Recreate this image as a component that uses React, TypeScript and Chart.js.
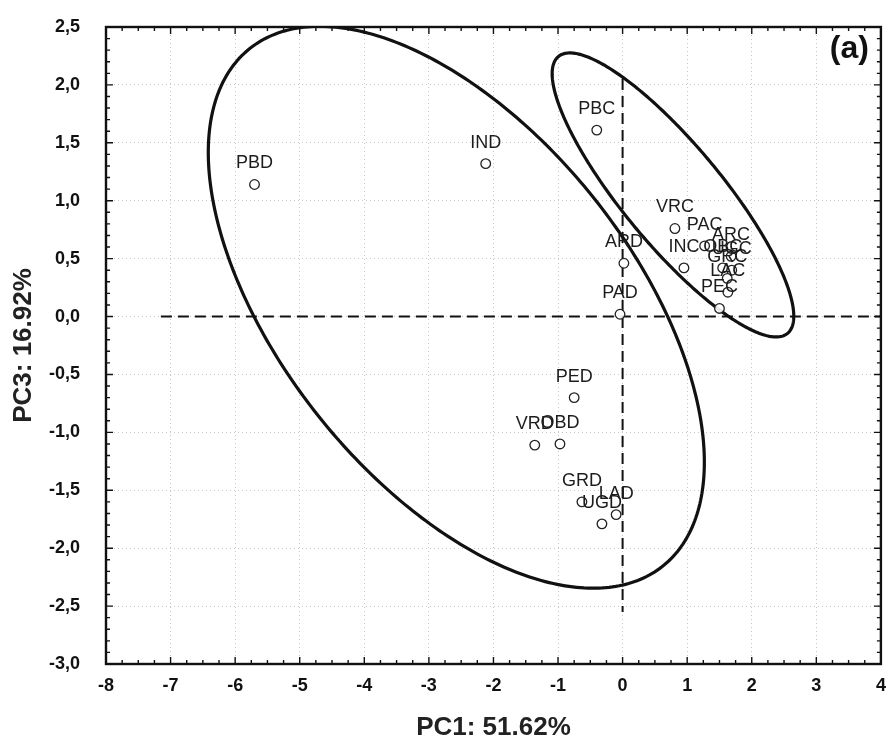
import React, { useEffect, useRef } from "react";
import { Chart, registerables } from "chart.js";

Chart.register(...registerables);

// ---- data ----
const sampleNames = [
  "PBD", "IND", "PBC", "ARD", "PAD", "VRC", "PAC", "ARC", "INC", "OBC",
  "UGC", "GRC", "LAC", "PEC", "PED", "VRD", "OBD", "GRD", "UGD", "LAD",
];
const pc1Scores = [
  -5.70, -2.12, -0.40, 0.02, -0.04, 0.81, 1.27, 1.68, 0.95, 1.55,
  1.69, 1.62, 1.63, 1.50, -0.75, -1.36, -0.97, -0.63, -0.32, -0.10,
];
const pc3Scores = [
  1.14, 1.32, 1.61, 0.46, 0.02, 0.76, 0.61, 0.52, 0.42, 0.42,
  0.40, 0.33, 0.21, 0.07, -0.70, -1.11, -1.10, -1.60, -1.79, -1.71,
];

// confidence ellipses (data units): center, and two conjugate semi-axis vectors
const ellipseCenterPC1 = [-2.575, 0.78];
const ellipseCenterPC3 = [0.08, 1.05];
const ellipseAxisA = [[3.841, -1.337], [1.772, -1.196]];
const ellipseAxisB = [[0, 2.024], [0.6, 0.27]];

// dashed zero reference lines (extent in data units)
const horizontalRefSpan = [-7.15, 4];
const verticalRefSpan = [2.05, -2.55];

const xTickRange = [-8, 4];
const yTickRange = [-3, 2.5];
const xTitle = "PC1: 51.62%";
const yTitle = "PC3: 16.92%";
const panelTag = "(a)";

const FONT = "'Liberation Sans', Arial, sans-serif";

export default function App() {
  const ref = useRef<HTMLCanvasElement>(null);

  useEffect(() => {
    const canvas = ref.current;
    if (!canvas) return;

    const points = sampleNames.map((_, i) => ({ x: pc1Scores[i], y: pc3Scores[i] }));

    const overlay = {
      id: "overlay",
      beforeDatasetsDraw(chart: any) {
        const { ctx, chartArea: a, scales } = chart;
        const x = scales.x, y = scales.y;
        ctx.save();
        ctx.beginPath();
        ctx.rect(a.left, a.top, a.right - a.left, a.bottom - a.top);
        ctx.clip();
        ctx.strokeStyle = "#111";
        ctx.lineWidth = 3.2;
        for (let e = 0; e < ellipseCenterPC1.length; e++) {
          ctx.beginPath();
          for (let k = 0; k <= 360; k++) {
            const t = (k * Math.PI) / 180;
            const dx = ellipseCenterPC1[e] + Math.cos(t) * ellipseAxisA[e][0] + Math.sin(t) * ellipseAxisB[e][0];
            const dy = ellipseCenterPC3[e] + Math.cos(t) * ellipseAxisA[e][1] + Math.sin(t) * ellipseAxisB[e][1];
            const px = x.getPixelForValue(dx);
            const py = y.getPixelForValue(dy);
            if (k === 0) ctx.moveTo(px, py);
            else ctx.lineTo(px, py);
          }
          ctx.closePath();
          ctx.stroke();
        }
        ctx.setLineDash([11, 6]);
        ctx.lineWidth = 2;
        ctx.beginPath();
        ctx.moveTo(x.getPixelForValue(horizontalRefSpan[0]), y.getPixelForValue(0));
        ctx.lineTo(x.getPixelForValue(horizontalRefSpan[1]), y.getPixelForValue(0));
        ctx.moveTo(x.getPixelForValue(0), y.getPixelForValue(verticalRefSpan[0]));
        ctx.lineTo(x.getPixelForValue(0), y.getPixelForValue(verticalRefSpan[1]));
        ctx.stroke();
        ctx.restore();
      },
      afterDatasetsDraw(chart: any) {
        const { ctx, scales } = chart;
        const x = scales.x, y = scales.y;
        ctx.save();
        ctx.font = `18px ${FONT}`;
        ctx.fillStyle = "#1c1c1c";
        ctx.textAlign = "center";
        ctx.textBaseline = "middle";
        sampleNames.forEach((name, i) => {
          const px = x.getPixelForValue(pc1Scores[i]);
          const py = y.getPixelForValue(pc3Scores[i]);
          ctx.fillText(name, px, py - 21);
        });
        ctx.restore();
      },
      afterDraw(chart: any) {
        const { ctx, chartArea: a, scales } = chart;
        const x = scales.x, y = scales.y;
        ctx.save();
        ctx.strokeStyle = "#111";
        ctx.lineWidth = 1.4;
        // inward ticks
        ctx.beginPath();
        for (let v = xTickRange[0]; v <= xTickRange[1] + 1e-9; v += 0.25) {
          const major = Math.abs(v - Math.round(v)) < 1e-6;
          const len = major ? 7 : 4;
          const px = x.getPixelForValue(v);
          ctx.moveTo(px, a.bottom);
          ctx.lineTo(px, a.bottom - len);
          ctx.moveTo(px, a.top);
          ctx.lineTo(px, a.top + len);
        }
        for (let k = 0; k <= 55; k++) {
          const v = yTickRange[0] + k * 0.1;
          const major = k % 5 === 0;
          const len = major ? 7 : 4;
          const py = y.getPixelForValue(v);
          ctx.moveTo(a.left, py);
          ctx.lineTo(a.left + len, py);
          ctx.moveTo(a.right, py);
          ctx.lineTo(a.right - len, py);
        }
        ctx.stroke();
        // frame
        ctx.lineWidth = 2.4;
        ctx.strokeRect(a.left, a.top, a.right - a.left, a.bottom - a.top);
        // panel tag
        ctx.font = `bold 32px ${FONT}`;
        ctx.fillStyle = "#111";
        ctx.textAlign = "right";
        ctx.textBaseline = "middle";
        ctx.fillText(panelTag, a.right - 12, a.top + 22);
        ctx.restore();
      },
    };

    const chart = new Chart(canvas, {
      type: "scatter",
      data: {
        datasets: [
          {
            data: points,
            pointStyle: "circle",
            pointRadius: 4.8,
            pointHoverRadius: 4.8,
            pointBorderWidth: 1.3,
            pointBorderColor: "#222",
            pointBackgroundColor: "rgba(255,255,255,0.9)",
            showLine: false,
          },
        ],
      },
      options: {
        animation: false,
        responsive: false,
        events: [],
        layout: { padding: { top: 27, right: 6, left: 0, bottom: 0 } },
        plugins: { legend: { display: false }, tooltip: { enabled: false } },
        scales: {
          x: {
            type: "linear",
            min: xTickRange[0],
            max: xTickRange[1],
            afterFit: (s: any) => {
              s.height = 80;
              s.paddingLeft = 0;
              s.paddingRight = 0;
              s.paddingTop = 0;
              s.paddingBottom = 0;
            },
            ticks: {
              stepSize: 1,
              padding: 11,
              color: "#111",
              font: { family: FONT, size: 18, weight: "bold" },
              callback: (v: any) => String(v),
            },
            grid: { color: "#c6c6c6", lineWidth: 1, drawTicks: false },
            border: { display: false, dash: [1, 3] },
            title: {
              display: true,
              text: xTitle,
              color: "#222",
              font: { family: FONT, size: 26, weight: "bold" },
              padding: { top: 0, bottom: 1 },
            },
          },
          y: {
            type: "linear",
            min: yTickRange[0],
            max: yTickRange[1],
            afterFit: (s: any) => {
              s.width = 106;
              s.paddingLeft = 0;
              s.paddingRight = 0;
              s.paddingTop = 0;
              s.paddingBottom = 0;
            },
            ticks: {
              stepSize: 0.5,
              padding: 26,
              color: "#111",
              font: { family: FONT, size: 18, weight: "bold" },
              callback: (v: any) => Number(v).toFixed(1).replace(".", ","),
            },
            grid: { color: "#c6c6c6", lineWidth: 1, drawTicks: false },
            border: { display: false, dash: [1, 3] },
            title: {
              display: true,
              text: yTitle,
              color: "#222",
              font: { family: FONT, size: 26, weight: "bold" },
              padding: { top: 8, bottom: 0 },
            },
          },
        },
      },
      plugins: [overlay],
    });

    return () => chart.destroy();
  }, []);

  return (
    <div style={{ position: "fixed", left: 0, top: 0, width: 887, height: 744, background: "#fff" }}>
      <canvas ref={ref} width={887} height={744} style={{ width: 887, height: 744, display: "block" }} />
    </div>
  );
}
